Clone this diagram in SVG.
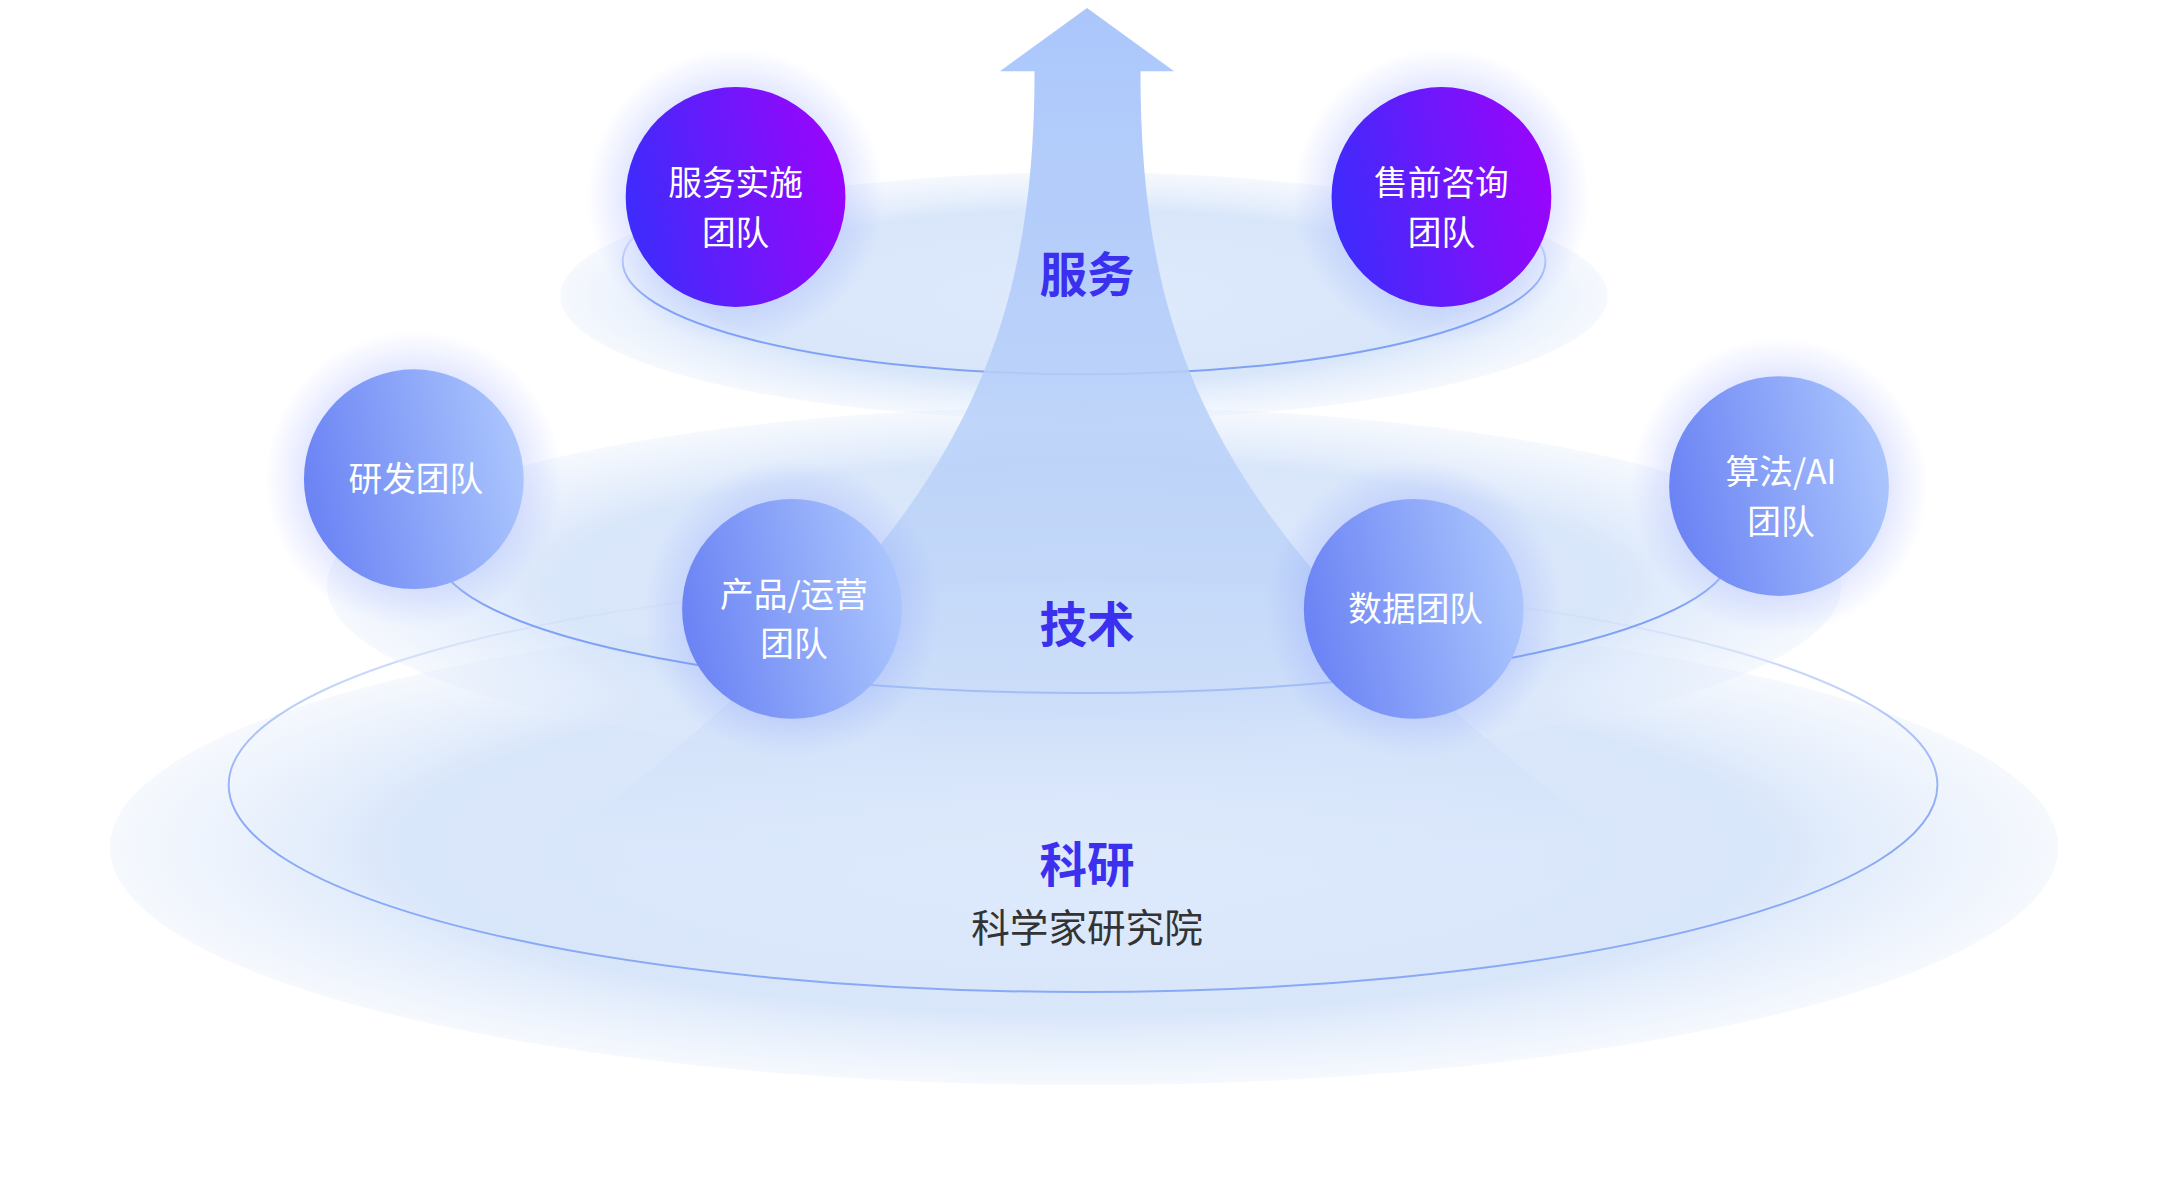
<svg xmlns="http://www.w3.org/2000/svg" width="2160" height="1192" viewBox="0 0 2160 1192">
<defs>
<linearGradient id="gp" x1="0" y1="0.6" x2="1" y2="0.4"><stop offset="0" stop-color="#3c2cfb"/><stop offset="1" stop-color="#9a05fc"/></linearGradient>
<linearGradient id="gb" x1="0" y1="0.6" x2="1" y2="0.4"><stop offset="0" stop-color="#6a82f4"/><stop offset="1" stop-color="#abc6fd"/></linearGradient>
<radialGradient id="ge"><stop offset="0" stop-color="#c9dcfa" stop-opacity="0.6"/><stop offset="0.7" stop-color="#cfe0f9" stop-opacity="0.8"/><stop offset="1" stop-color="#dfeafb" stop-opacity="0.3"/></radialGradient>
<linearGradient id="ga" x1="0" y1="0" x2="0" y2="1"><stop offset="0" stop-color="#aac6fb"/><stop offset="0.55" stop-color="#bcd3f8" stop-opacity="0.8"/><stop offset="0.85" stop-color="#d5e4fa" stop-opacity="0"/></linearGradient>
<linearGradient id="gs" x1="0" y1="0" x2="0" y2="1"><stop offset="0.3" stop-color="#7fa2f5" stop-opacity="0"/><stop offset="0.7" stop-color="#7fa2f5" stop-opacity="1"/></linearGradient>
<linearGradient id="gs2" x1="0" y1="0" x2="0" y2="1"><stop offset="0" stop-color="#7fa2f5" stop-opacity="0.15"/><stop offset="0.6" stop-color="#7fa2f5" stop-opacity="0.9"/></linearGradient>
<radialGradient id="glow"><stop offset="0.6" stop-color="#8a9cff" stop-opacity="0.35"/><stop offset="1" stop-color="#8a9cff" stop-opacity="0"/></radialGradient>
<style>
.ct{font-family:"Noto Sans CJK SC","Noto Sans",sans-serif;font-size:34px;fill:#fff;text-anchor:middle}
.lb{font-family:"Noto Sans CJK SC",sans-serif;font-size:48px;font-weight:bold;fill:#3a30ee;text-anchor:middle}
.ol{fill:none;stroke:url(#gs);stroke-width:2}
</style>
</defs>
<rect width="2160" height="1192" fill="#fff"/>
<g transform="scale(0.99)">
<g id="layers">
<ellipse cx="1095" cy="856" rx="984" ry="240" fill="url(#ge)"/>
<ellipse cx="1094" cy="793" rx="863" ry="209" fill="none" stroke="url(#gs2)" stroke-width="2"/>
<ellipse cx="1095" cy="592" rx="765" ry="181" fill="url(#ge)"/>
<ellipse class="ol" cx="1095" cy="557" rx="654" ry="143"/>
<ellipse cx="1095" cy="299" rx="529" ry="125" fill="url(#ge)"/>
<ellipse class="ol" cx="1095" cy="264" rx="466" ry="114"/>
</g>
<g id="arrow">
<path d="M1098 8 L1186 72 L1152 72 C1152 400 1260 580 1700 900 L1600 1050 L600 1050 L500 900 C930 580 1045 400 1045 72 L1010 72 Z" fill="url(#ga)"/>
</g>
<g id="labels">
<text class="lb" x="1098" y="295">服务</text>
<text class="lb" x="1098" y="648">技术</text>
<text class="lb" x="1098" y="891">科研</text>
<text x="1098" y="952" font-family="Noto Sans CJK SC,sans-serif" font-size="39" fill="#333" text-anchor="middle">科学家研究院</text>
</g>
<g id="n1"><circle cx="743" cy="199" r="150" fill="url(#glow)"/><circle cx="743" cy="199" r="111" fill="url(#gp)"/><text class="ct" x="743" y="197">服务实施</text><text class="ct" x="743" y="247">团队</text></g>
<g id="n2"><circle cx="1456" cy="199" r="150" fill="url(#glow)"/><circle cx="1456" cy="199" r="111" fill="url(#gp)"/><text class="ct" x="1456" y="197">售前咨询</text><text class="ct" x="1456" y="247">团队</text></g>
<g id="n3"><circle cx="418" cy="484" r="150" fill="url(#glow)"/><circle cx="418" cy="484" r="111" fill="url(#gb)"/><text class="ct" x="420" y="496">研发团队</text></g>
<g id="n4"><circle cx="1797" cy="491" r="150" fill="url(#glow)"/><circle cx="1797" cy="491" r="111" fill="url(#gb)"/><text class="ct" x="1799" y="489">算法/AI</text><text class="ct" x="1799" y="539">团队</text></g>
<g id="n5"><circle cx="800" cy="615" r="150" fill="url(#glow)"/><circle cx="800" cy="615" r="111" fill="url(#gb)"/><text class="ct" x="802" y="613">产品/运营</text><text class="ct" x="802" y="663">团队</text></g>
<g id="n6"><circle cx="1428" cy="615" r="150" fill="url(#glow)"/><circle cx="1428" cy="615" r="111" fill="url(#gb)"/><text class="ct" x="1430" y="627">数据团队</text></g>
</g>
</svg>
